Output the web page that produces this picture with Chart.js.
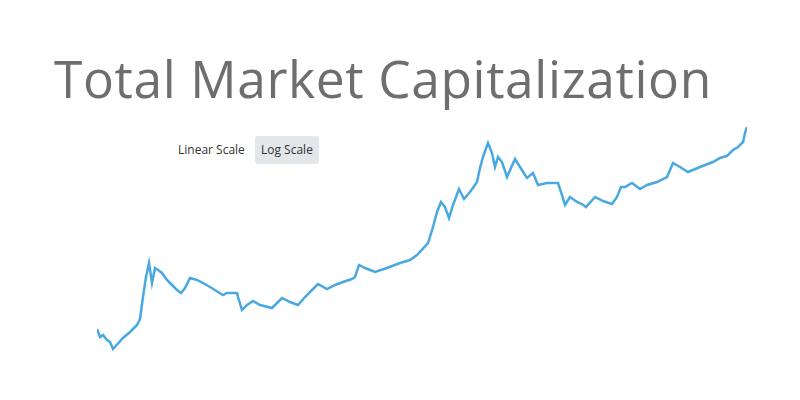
<!DOCTYPE html>
<html>
<head>
<meta charset="utf-8">
<script src="https://cdn.jsdelivr.net/npm/chart.js@4"></script>
<style>
  html, body { margin: 0; padding: 0; background: #fff; }
  #wrap { position: relative; width: 800px; height: 400px; overflow: hidden; }
  #title { position: absolute; left: 54px; top: 43px; font-family: "Open Sans", sans-serif; font-size: 51.5px; color: #6e6e6e; white-space: nowrap; letter-spacing: 0.6px; }
  .btn { position: absolute; top: 136px; height: 28px; line-height: 28px; font-family: "Open Sans", sans-serif; font-size: 12px; color: #333; padding: 0 5px; border-radius: 3px; }
  #lin { left: 173px; }
  #log { left: 255px; background: #e4e7ea; padding: 0 6px; }
  canvas { position: absolute; left: 0; top: 0; }
</style>
</head>
<body>
<div id="wrap">
  <div id="title">Total Market Capitalization</div>
  <div class="btn" id="lin">Linear Scale</div>
  <div class="btn" id="log">Log Scale</div>
  <canvas id="c" width="800" height="400"></canvas>
</div>
<script>
// time position (arbitrary units) and log-scale height of total market cap
const timePos = [0,3,6,10,13,16,26,33,40,43,46,49,52,55,58,61,65,70,73,80,84,88,93,100,106,113,121,126,130,140,141,145,150,156,163,175,185,193,201,208,215,221,230,238,246,255,258,262,268,278,290,303,313,320,331,336,340,344,348,352,356,362,367,373,380,383,386,391,395,398,401,405,410,418,423,430,436,441,450,461,465,468,473,480,485,489,498,506,515,520,524,528,535,543,550,560,570,576,583,591,603,616,623,630,636,641,646,648,650];
const capLevel = [31,23,25,20,18,11,22,28,35,41,63,83,97,77,92,90,87,80,77,70,67,72,82,80,77,73,68,65,67,67,63,50,55,59,55,52,62,58,55,63,70,76,71,75,78,81,83,95,92,88,92,97,100,105,117,133,148,158,153,142,155,171,161,168,178,192,203,217,207,193,203,198,183,201,193,182,187,175,177,177,165,155,163,158,156,153,163,159,156,163,173,173,177,171,175,178,183,197,193,188,193,198,202,204,210,213,218,227,233];

const points = timePos.map((t, i) => ({ x: t, y: capLevel[i] }));

new Chart(document.getElementById('c'), {
  type: 'line',
  data: {
    datasets: [{
      label: 'Total Market Capitalization',
      data: points,
      borderColor: '#48a9e2',
      borderWidth: 2.5,
      pointRadius: 0,
      tension: 0,
      fill: false
    }]
  },
  options: {
    responsive: false,
    animation: false,
    layout: { padding: { left: 97, right: 53, top: 120, bottom: 40 } },
    plugins: { legend: { display: false }, tooltip: { enabled: false } },
    scales: {
      x: { type: 'linear', min: 0, max: 650, display: false },
      y: { min: 0, max: 240, display: false }
    }
  }
});
</script>
</body>
</html>
